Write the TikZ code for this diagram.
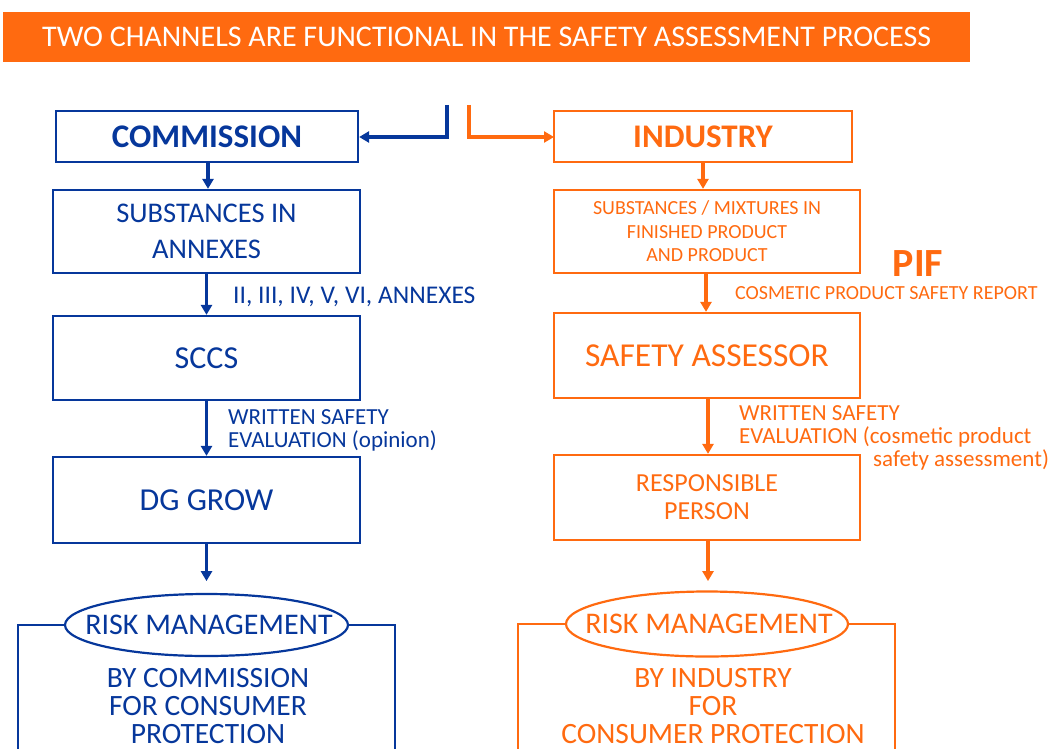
\documentclass[tikz,border=0pt]{standalone}
\usepackage{fontspec}
\setmainfont{Carlito}
\usetikzlibrary{arrows.meta,shapes.geometric}
\definecolor{cblue}{HTML}{06379B}
\definecolor{corange}{HTML}{FF6A10}
\tikzset{
  bbox/.style={draw=cblue,line width=2.2pt,text=cblue,align=center,inner sep=0pt},
  obox/.style={draw=corange,line width=2.2pt,text=corange,align=center,inner sep=0pt},
  barr/.style={draw=cblue,line width=3.2pt,-{Triangle[length=10pt,width=11pt]}},
  oarr/.style={draw=corange,line width=3.2pt,-{Triangle[length=10pt,width=11pt]}},
  bline/.style={draw=cblue,line width=2.2pt},
  oline/.style={draw=corange,line width=2.2pt},
  lbl/.style={inner sep=0pt,align=left,anchor=west},
  ell/.style={ellipse,line width=2.2pt,inner sep=0pt},
}
\begin{document}
\begin{tikzpicture}[x=1pt,y=-1pt]
\useasboundingbox (0,0) rectangle (1048,749);
% banner
\node[fill=corange,minimum width=967pt,minimum height=50pt,inner sep=0pt,anchor=north west,
  text=white,font=\fontsize{30}{32}\selectfont] (banner) at (3,12) {TWO CHANNELS ARE FUNCTIONAL IN THE SAFETY ASSESSMENT PROCESS};
% left column
\node[bbox,minimum width=302pt,minimum height=51pt,font=\bfseries\fontsize{33}{34}\selectfont] (comm) at (207,136.5) {COMMISSION};
\node[bbox,minimum width=307pt,minimum height=83pt,font=\fontsize{28.5}{36}\selectfont] (subs) at (206.5,231.5) {SUBSTANCES IN\\ANNEXES};
\node[bbox,minimum width=307pt,minimum height=84pt,font=\fontsize{32}{34}\selectfont] (sccs) at (206.5,358) {SCCS};
\node[bbox,minimum width=307pt,minimum height=86pt,font=\fontsize{32}{34}\selectfont] (dg) at (206.5,500) {DG GROW};
\node[ell,draw=cblue,minimum width=283pt,minimum height=62pt] (rmL) at (206.5,625) {};
\node[text=cblue,inner sep=0pt,font=\fontsize{30}{32}\selectfont] (rmLt) at (209,625) {RISK MANAGEMENT};
\node[text=cblue,align=center,inner sep=0pt,font=\fontsize{29.5}{28}\selectfont] (byC) at (208,706) {BY COMMISSION\\FOR CONSUMER\\PROTECTION};
\draw[barr] (comm.south -| 208,0) -- (subs.north -| 208,0);
\draw[barr] (subs.south) -- (sccs.north);
\draw[barr] (sccs.south) -- (dg.north);
\draw[barr] (dg.south) -- ++(0,37) coordinate (rmLtop);
\node[lbl,text=cblue,font=\fontsize{25.5}{27}\selectfont] (annx) at (233,297) {II, III, IV, V, VI, ANNEXES};
\node[lbl,text=cblue,font=\fontsize{23}{23}\selectfont] (wseL) at (228,430) {WRITTEN SAFETY\\EVALUATION (opinion)};
\coordinate (bl1) at (18,749);
\coordinate (bl2) at (395,749);
\draw[bline] (rmL.west) -- (rmL.west -| bl1) -- (bl1);
\draw[bline] (rmL.east) -- (rmL.east -| bl2) -- (bl2);
% top connectors
\coordinate (tb) at (447,105);
\coordinate (to) at (469,105);
\draw[barr] (tb) -- (447,137) -- (comm.east |- 0,137);
\draw[oarr] (to) -- (469,137) coordinate (oc) -- (554,137);
% right column
\node[obox,minimum width=298pt,minimum height=51pt,font=\bfseries\fontsize{33}{34}\selectfont] (ind) at (703,136.5) {INDUSTRY};
\node[obox,minimum width=306pt,minimum height=83pt,font=\fontsize{20}{23.5}\selectfont] (subsR) at (707,231.5) {SUBSTANCES / MIXTURES IN\\FINISHED PRODUCT\\AND PRODUCT};
\node[obox,minimum width=306pt,minimum height=85pt,font=\fontsize{33.5}{34}\selectfont] (sa) at (707,355.5) {SAFETY ASSESSOR};
\node[obox,minimum width=306pt,minimum height=85pt,font=\fontsize{26}{28}\selectfont] (rp) at (707,497.5) {RESPONSIBLE\\PERSON};
\node[ell,draw=corange,minimum width=282pt,minimum height=65pt] (rmR) at (707,624) {};
\node[text=corange,inner sep=0pt,font=\fontsize{30}{32}\selectfont] (rmRt) at (709,624) {RISK MANAGEMENT};
\node[text=corange,align=center,inner sep=0pt,font=\fontsize{29.5}{28}\selectfont] (byI) at (713,706) {BY INDUSTRY\\FOR\\CONSUMER PROTECTION};
\draw[oarr] (ind.south -| 703,0) -- (subsR.north -| 703,0);
\draw[oarr] (subsR.south -| 706,0) -- (sa.north -| 706,0);
\draw[oarr] (sa.south -| 708,0) -- (rp.north -| 708,0);
\draw[oarr] (rp.south -| 708,0) -- ++(0,40);
\node[text=corange,inner sep=0pt,font=\bfseries\fontsize{40}{40}\selectfont] (pif) at (918,264) {PIF};
\node[lbl,text=corange,font=\fontsize{20}{20}\selectfont] (cpsr) at (735,293) {COSMETIC PRODUCT SAFETY REPORT};
\node[lbl,text=corange,font=\fontsize{23}{23}\selectfont] (wseR) at (739,438) {WRITTEN SAFETY\\EVALUATION (cosmetic product\\\hspace*{134pt}safety assessment)};
\coordinate (br1) at (518,749);
\coordinate (br2) at (895,749);
\draw[oline] (rmR.west) -- (rmR.west -| br1) -- (br1);
\draw[oline] (rmR.east) -- (rmR.east -| br2) -- (br2);
\end{tikzpicture}
\end{document}
